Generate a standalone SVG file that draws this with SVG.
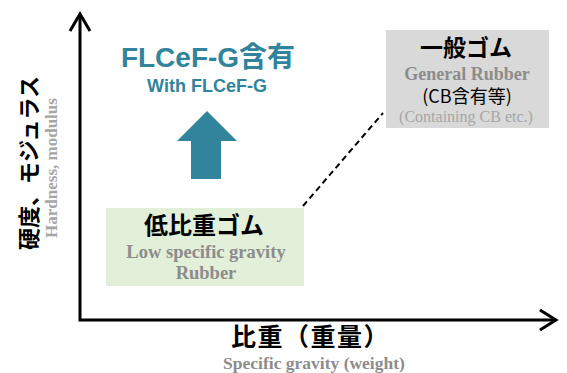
<svg xmlns="http://www.w3.org/2000/svg" width="567" height="373" viewBox="0 0 567 373">
<style>
.jp{font-family:"Noto Sans CJK JP","Noto Sans",sans-serif;font-weight:bold;fill:#000}
.en{font-family:"Liberation Serif",serif;font-weight:bold;fill:#8c8c8c}
.teal{font-family:"Liberation Sans",Arial,sans-serif;font-weight:bold;fill:#31849b}
.axis{stroke:#000;stroke-width:3;fill:none}
</style>
<rect width="567" height="373" fill="#fff"/>
<g id="axes">
<path class="axis" d="M80 14 V320 H556"/>
<path class="axis" d="M70 31 L80 14 L90 31"/>
<path class="axis" d="M540 310 L556 320 L540 330"/>
</g>
<g id="y-label">
<text class="jp" font-size="22" text-anchor="middle" transform="translate(37,163) rotate(-90)">硬度、モジュラス</text>
<text class="en" font-size="17" style="fill:#a6a6a6" text-anchor="middle" transform="translate(57,168) rotate(-90)">Hardness, modulus</text>
</g>
<g id="x-label">
<text class="jp" font-size="25" letter-spacing="1.5" x="231" y="346">比重（重量）</text>
<text class="en" font-size="17.5" text-anchor="middle" x="314" y="369">Specific gravity (weight)</text>
</g>
<g id="connectors">
<line x1="303" y1="206" x2="383" y2="113" stroke="#000" stroke-width="2" stroke-dasharray="6,4"/>
</g>
<g id="flcef">
<text class="teal" font-size="28" text-anchor="middle" x="208" y="67">FLCeF-G<tspan font-family="Noto Sans CJK JP,sans-serif">含有</tspan></text>
<text class="teal" font-size="18" text-anchor="middle" x="207" y="92">With FLCeF-G</text>
<polygon points="207,111 237,141 221,141 221,179 191,179 191,141 177,141" fill="#31849b"/>
</g>
<g id="low-sg-rubber">
<rect x="106" y="208" width="198" height="78" fill="#e2efd9"/>
<text class="jp" font-size="24" text-anchor="middle" x="204" y="234">低比重ゴム</text>
<text class="en" font-size="18.5" text-anchor="middle" x="206" y="258">Low specific gravity</text>
<text class="en" font-size="18.5" text-anchor="middle" x="206" y="279">Rubber</text>
</g>
<g id="general-rubber">
<rect x="386" y="30" width="163" height="98" fill="#d9d9d9"/>
<text class="jp" font-size="23" text-anchor="middle" x="466" y="56">一般ゴム</text>
<text class="en" font-size="18" text-anchor="middle" x="467" y="80">General Rubber</text>
<text font-family="Noto Sans CJK JP,sans-serif" font-size="18" text-anchor="middle" x="467" y="103" fill="#000">(CB含有等)</text>
<text font-family="Liberation Serif,serif" font-size="16" fill="#a6a6a6" text-anchor="middle" x="466" y="122">(Containing CB etc.)</text>
</g>
</svg>
